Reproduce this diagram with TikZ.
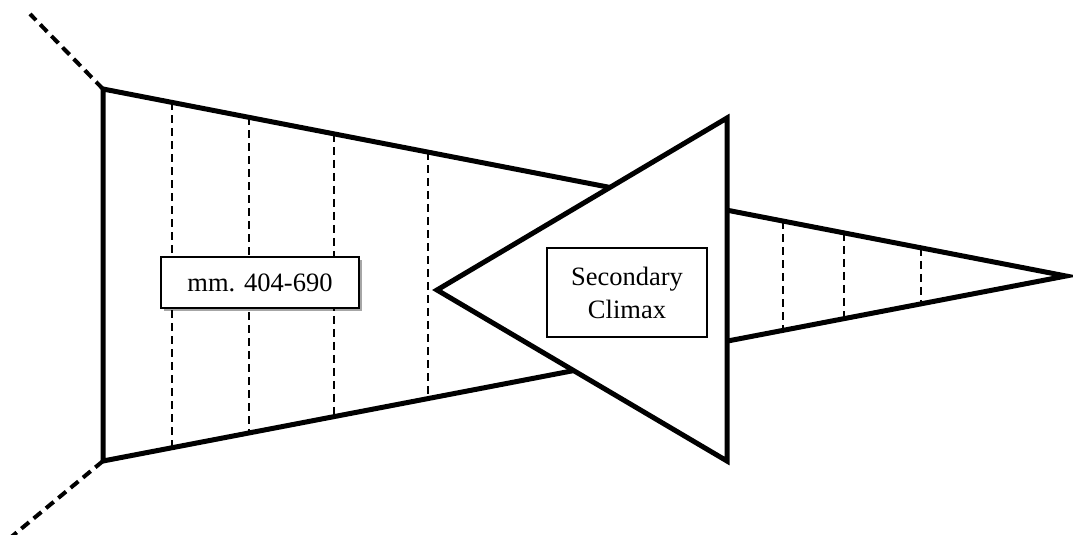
\documentclass[tikz,border=0pt]{standalone}
\usepackage{fontspec}
\setmainfont{Liberation Serif}
\usetikzlibrary{shadows,calc}
\tikzset{
  thickline/.style={line width=5pt, line join=miter},
  thindash/.style={line width=1.5pt, dash pattern=on 8pt off 5pt},
  thickdash/.style={line width=4pt, dash pattern=on 10pt off 6pt},
  labelbox/.style={draw, line width=1.2pt, fill=white, inner sep=0pt,
    font=\fontsize{26.5}{33}\selectfont, align=center},
}
\begin{document}
\begin{tikzpicture}[x=1pt,y=-1pt]
\useasboundingbox (0,0) rectangle (1073,535);
% key points
\coordinate (TL) at (103,89);
\coordinate (BL) at (103,461);
\coordinate (AP) at (1066,276);
\coordinate (ETL) at (30,14);
\coordinate (EBL) at (10,538);
% dashed extensions
\draw[thickdash] (TL) -- (ETL);
\draw[thickdash] (BL) -- (EBL);
% vertical dashed lines
\foreach \x [count=\i] in {172,249,334,428,783,844,921}{
  \coordinate (dt\i) at ($(TL)!{(\x-103)/963}!(AP)$);
  \coordinate (db\i) at ($(BL)!{(\x-103)/963}!(AP)$);
  \draw[thindash] (dt\i) -- (db\i);
}
% funnel
\draw[thickline] (TL) -- (AP) -- (BL) -- cycle;
% triangle
\coordinate (TA) at (437,290);
\coordinate (TT) at (727,118);
\coordinate (TB) at (727,461);
\draw[thickline, fill=white] (TA) -- (TT) -- (TB) -- cycle;
% labels
\node[labelbox, minimum width=198pt, minimum height=51pt,
  drop shadow={shadow xshift=3pt, shadow yshift=-3pt, fill=black, opacity=0.35}]
  (mm) at (260,282.5) {mm. 404-690};
\node[labelbox, minimum width=160pt, minimum height=89pt] (sc) at (627,292.5)
  {Secondary\\Climax};
\end{tikzpicture}
\end{document}
